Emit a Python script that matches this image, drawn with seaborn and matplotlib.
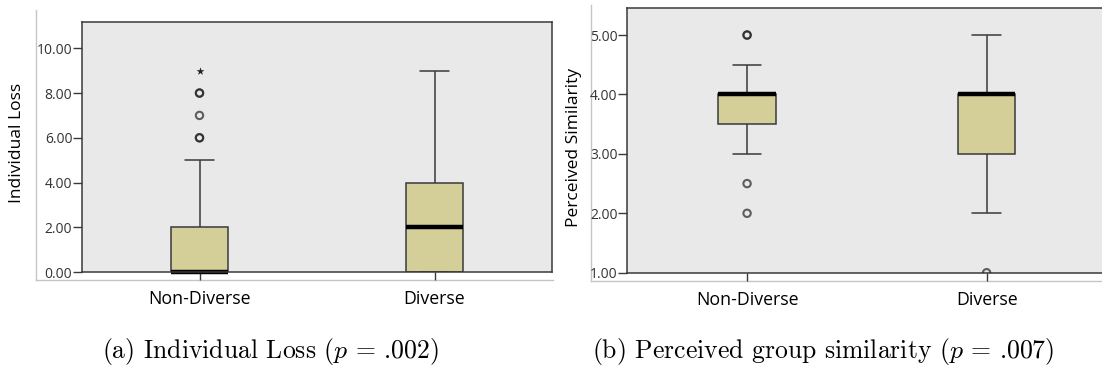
import numpy as np
import pandas as pd
import matplotlib
matplotlib.use("Agg")
import matplotlib.pyplot as plt
import seaborn as sns

# ---------------- data ----------------
categories = ["Non-Diverse", "Diverse"]

loss_non_diverse = [0, 0, 0, 0, 0, 0, 0, 0, 0, 0, 0, 0, 0, 0, 0,
                    1, 1, 2, 2, 2, 2, 2, 5, 6, 6, 7, 8, 8, 9]
loss_diverse = [0, 0, 0, 1, 2, 3, 4, 7, 9]

sim_non_diverse = [2, 2.5, 3, 3.5, 3.5, 3.5, 4, 4, 4, 4, 4.5, 5, 5]
sim_diverse = [1, 2, 3, 3, 4, 4, 4, 4.5, 5]

loss_ticks = [0, 2, 4, 6, 8, 10]
sim_ticks = [1, 2, 3, 4, 5]

ylabel_a = "Individual Loss"
ylabel_b = "Perceived Similarity"
caption_a = r"(a) Individual Loss ($p$ = .002)"
caption_b = r"(b) Perceived group similarity ($p$ = .007)"

# ---------------- style ----------------
sns.set_style("white")
plt.rcParams["font.family"] = ["Open Sans", "DejaVu Sans"]
plt.rcParams["mathtext.fontset"] = "cm"

W, H = 1102, 369
fig = plt.figure(figsize=(W / 100, H / 100), dpi=100)
fig.patch.set_facecolor("white")

BOX = "#d4cf99"
EDGE = "#3a3a3a"
BG = "#e9e9e9"
FRAME = "#c6c6c6"


def rect(left, top, right, bottom):
    return [left / W, 1 - bottom / H, (right - left) / W, (bottom - top) / H]


def make_df(a, b):
    return pd.DataFrame({
        "group": [categories[0]] * len(a) + [categories[1]] * len(b),
        "value": list(a) + list(b),
    })


def outer_frame(r):
    axb = fig.add_axes(r, zorder=0)
    axb.set_facecolor("none")
    axb.set_xticks([])
    axb.set_yticks([])
    for s in ["top", "right"]:
        axb.spines[s].set_visible(False)
    for s in ["left", "bottom"]:
        axb.spines[s].set_color(FRAME)
        axb.spines[s].set_linewidth(1.0)
    return axb


def panel(r, df, ylim, ticks):
    ax = fig.add_axes(r, zorder=2)
    ax.set_facecolor(BG)
    sns.boxplot(data=df, x="group", y="value", order=categories, ax=ax,
                width=0.24, color=BOX, saturation=1, linecolor=EDGE,
                linewidth=1.1, showfliers=False, whis=1.5,
                medianprops=dict(color="black", linewidth=3.2, clip_on=False))
    # outliers / extremes computed from the data
    for i, cat in enumerate(categories):
        v = df.loc[df["group"] == cat, "value"].to_numpy(dtype=float)
        q1, q3 = np.percentile(v, [25, 75])
        iqr = q3 - q1
        out = (v > q3 + 1.5 * iqr) | (v < q1 - 1.5 * iqr)
        ext = (v > q3 + 3 * iqr) | (v < q1 - 3 * iqr)
        mild = out & ~ext
        ax.scatter(np.full(mild.sum(), i), v[mild], s=28, marker="o",
                   facecolors="none", edgecolors="#222222", linewidths=1.5,
                   alpha=0.7, zorder=5)
        ax.scatter(np.full(ext.sum(), i), v[ext], s=36, marker="*",
                   color="#222222", linewidths=0, zorder=5)
    ax.set_xlim(-0.5, 1.5)
    ax.set_ylim(*ylim)
    ax.set_yticks(ticks)
    ax.set_yticklabels([f"{t:.2f}" for t in ticks])
    ax.set_xlabel("")
    ax.set_ylabel("")
    for s in ax.spines.values():
        s.set_visible(True)
        s.set_color(EDGE)
        s.set_linewidth(1.1)
    ax.tick_params(axis="y", left=True, direction="out", length=6.5,
                   width=1.0, color=EDGE, pad=0.5, labelsize=10,
                   labelcolor="#333333")
    ax.tick_params(axis="x", bottom=True, direction="out", length=5.8,
                   width=1.0, color=EDGE, pad=7.5, labelsize=12.8,
                   labelcolor="black")
    return ax


outer_frame(rect(35.7, 10, 553, 280))
outer_frame(rect(590.7, 5, 1112, 281))

panel(rect(82, 21.7, 552, 272), make_df(loss_non_diverse, loss_diverse),
      (0, 11.19), loss_ticks)
panel(rect(627.3, 8.3, 1106.4, 272.7), make_df(sim_non_diverse, sim_diverse),
      (1, 5.45), sim_ticks)

fig.text(17.5 / W, 1 - 142.5 / H, ylabel_a, rotation=90, ha="center",
         va="center", fontsize=12.5, color="black")
fig.text(574 / W, 1 - 147 / H, ylabel_b, rotation=90, ha="center",
         va="center", fontsize=12.5, color="black")

cap_font = dict(family=["cmr10", "DejaVu Serif"], fontsize=18.5,
                color="black", ha="center", va="baseline")
fig.text(270 / W, 1 - 358 / H, caption_a, **cap_font)
fig.text(823 / W, 1 - 358 / H, caption_b, **cap_font)

fig.savefig("out.png", dpi=100, facecolor="white")
